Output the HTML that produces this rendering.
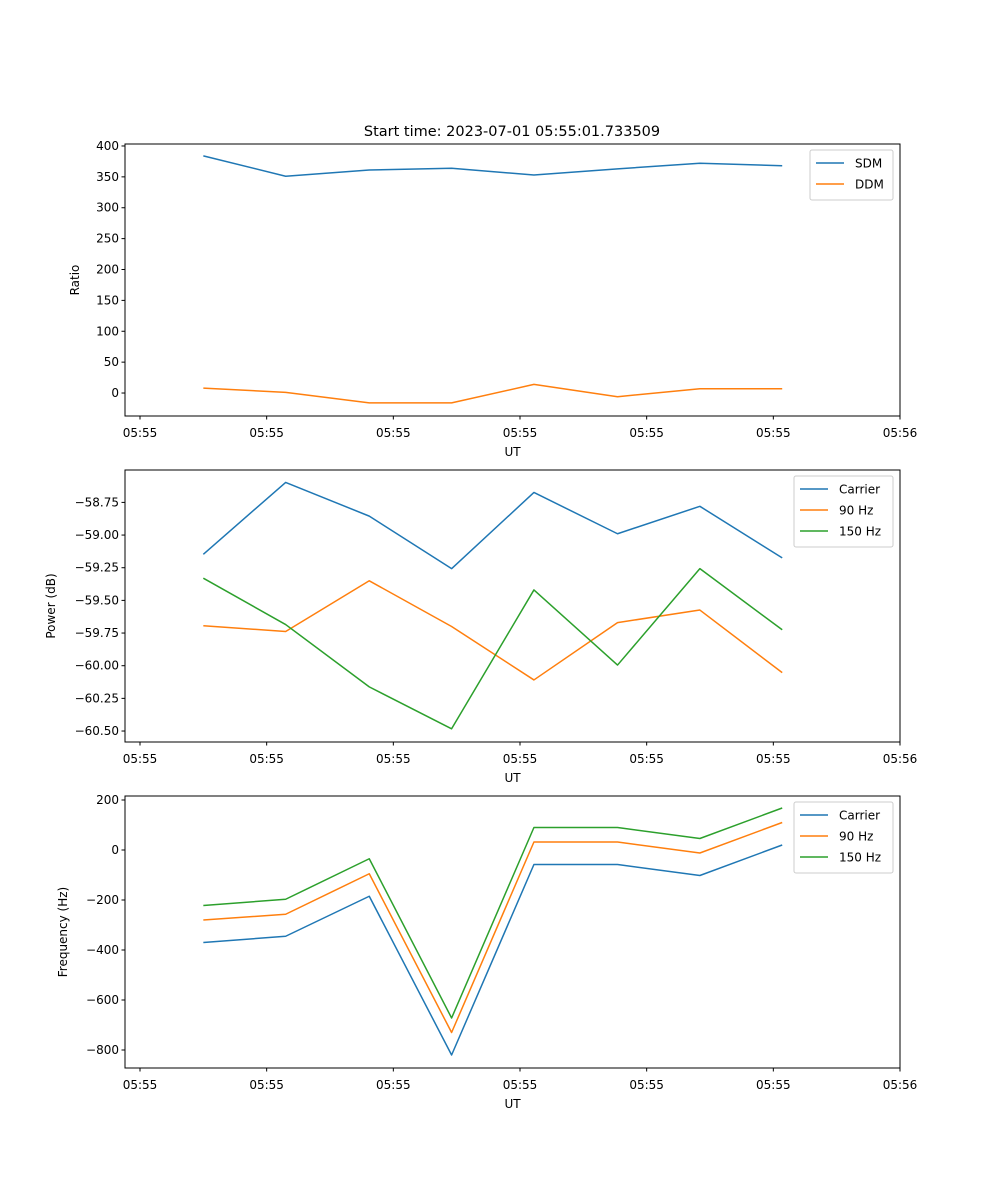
<!DOCTYPE html>
<html><head><meta charset="utf-8"><style>
body{margin:0;background:#fff;font-family:"DejaVu Sans","Liberation Sans",sans-serif;}
svg text{font-family:"DejaVu Sans","Liberation Sans",sans-serif;font-size:12px;fill:#000;}
</style></head><body>
<svg id="fig" width="1000" height="1200" xmlns="http://www.w3.org/2000/svg">
<rect width="1000" height="1200" fill="#fff"/>
<text x="512" y="136" text-anchor="middle" style="font-size:14.5px">Start time: 2023-07-01 05:55:01.733509</text>
</svg>
<script>
const times = [5.0, 11.5, 18.1, 24.6, 31.1, 37.7, 44.2, 50.7];
const xTicks = [0, 10, 20, 30, 40, 50, 60];
const xTickLabels = ["05:55","05:55","05:55","05:55","05:55","05:55","05:56"];
const sdm = [384, 351, 361, 364, 353, 363, 372, 368];
const ddm = [8, 1, -16, -16, 14, -6, 7, 7];
const pCarrier = [-59.147, -58.597, -58.855, -59.257, -58.674, -58.99, -58.78, -59.175];
const p90 = [-59.694, -59.738, -59.35, -59.70, -60.109, -59.67, -59.574, -60.053];
const p150 = [-59.33, -59.685, -60.162, -60.483, -59.42, -59.995, -59.257, -59.725];
const fCarrier = [-370, -345, -185, -820, -58, -58, -102, 20];
const f90 = [-280, -257, -95, -730, 32, 32, -12, 110];
const f150 = [-222, -197, -35, -672, 90, 90, 46, 168];
const ratioTicks = [0, 50, 100, 150, 200, 250, 300, 350, 400];
const powerTicks = [-58.75, -59.00, -59.25, -59.50, -59.75, -60.00, -60.25, -60.50];
const freqTicks = [200, 0, -200, -400, -600, -800];

const NS = "http://www.w3.org/2000/svg";
const svg = document.getElementById('fig');
const L = 125, R = 900, xmin = -1.184, xmax = 60.0;
function sx(t){ return L + (t - xmin) / (xmax - xmin) * (R - L); }
function mk(tag, attrs, parent){ const e = document.createElementNS(NS, tag); for (const k in attrs) e.setAttribute(k, attrs[k]); (parent||svg).appendChild(e); return e; }
const C = {blue:"#1f77b4", orange:"#ff7f0e", green:"#2ca02c"};

function panel(key, top, bottom, ymin, ymax, yTicks, fmt, ylabel, ylabelX, series, legendW){
  const g = mk('g', {});
  
  
  const sy = v => bottom - (v - ymin) / (ymax - ymin) * (bottom - top);
  series.forEach(s => {
    const pts = times.map((t, i) => sx(t).toFixed(2) + ',' + sy(s.vals[i]).toFixed(2)).join(' ');
    const pl = mk('polyline', {points: pts, fill: 'none', stroke: s.color, 'stroke-width': 1.5, 'stroke-linejoin': 'round'}, g);
    
    
  });
  const fr = mk('rect', {x: L, y: top, width: R - L, height: bottom - top, fill: 'none', stroke: '#000', 'stroke-width': 1}, g);
  
  
  xTicks.forEach((t, i) => {
    const x = sx(t);
    mk('line', {x1: x, x2: x, y1: bottom, y2: bottom + 3.5, stroke: '#000'}, g);
    const tx = mk('text', {x: x, y: bottom + 21, 'text-anchor': 'middle'}, g);
    tx.textContent = xTickLabels[i];
    
    
  });
  const xl = mk('text', {x: (L + R) / 2, y: bottom + 40, 'text-anchor': 'middle'}, g);
  xl.textContent = 'UT';
  
  
  yTicks.forEach(v => {
    const y = sy(v);
    mk('line', {x1: L - 3.5, x2: L, y1: y, y2: y, stroke: '#000'}, g);
    const tx = mk('text', {x: L - 6, y: y + 4, 'text-anchor': 'end'}, g);
    tx.textContent = fmt(v);
    
    
  });
  const yl = mk('text', {x: ylabelX, y: (top + bottom) / 2, 'text-anchor': 'middle', transform: 'rotate(-90 ' + ylabelX + ' ' + (top + bottom) / 2 + ')'}, g);
  yl.textContent = ylabel;
  
  
  const lx = R - 7 - legendW, ly = top + 6, lh = 8 + series.length * 21;
  const lg = mk('g', {}, g);
  
  
  mk('rect', {x: lx, y: ly, width: legendW, height: lh, rx: 2, fill: '#fff', 'fill-opacity': 0.8, stroke: '#ccc'}, lg);
  series.forEach((s, i) => {
    const yy = ly + 13 + i * 21;
    mk('line', {x1: lx + 6, x2: lx + 34, y1: yy, y2: yy, stroke: s.color, 'stroke-width': 1.5}, lg);
    const tx = mk('text', {x: lx + 45, y: yy + 4.5}, lg);
    tx.textContent = s.name;
    
    
  });
}
const f2 = v => v.toFixed(2).replace('-', '\u2212');
const f0 = v => String(v).replace('-', '\u2212');
panel('ratio', 144, 416, -37.2, 403.2, ratioTicks, f0, 'Ratio', 79,
  [{id:'sdm', name:'SDM', color:C.blue, vals:sdm}, {id:'ddm', name:'DDM', color:C.orange, vals:ddm}], 83);
panel('power', 470, 742, -60.584, -58.502, powerTicks, f2, 'Power (dB)', 55,
  [{id:'carrier', name:'Carrier', color:C.blue, vals:pCarrier}, {id:'90hz', name:'90 Hz', color:C.orange, vals:p90}, {id:'150hz', name:'150 Hz', color:C.green, vals:p150}], 99);
panel('frequency', 796, 1068, -872, 216, freqTicks, f0, 'Frequency (Hz)', 67,
  [{id:'carrier', name:'Carrier', color:C.blue, vals:fCarrier}, {id:'90hz', name:'90 Hz', color:C.orange, vals:f90}, {id:'150hz', name:'150 Hz', color:C.green, vals:f150}], 99);
</script>
</body></html>
